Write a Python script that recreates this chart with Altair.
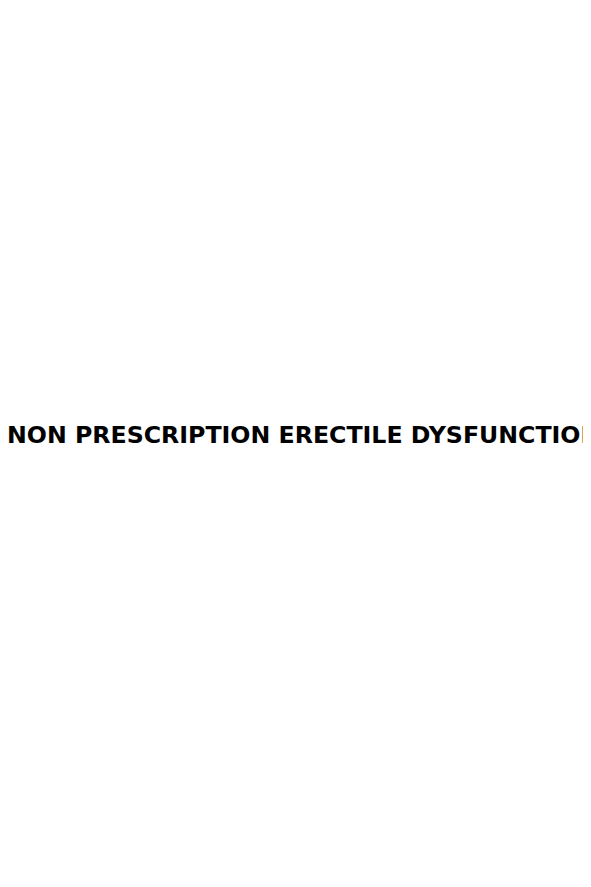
import pandas as pd
import altair as alt

# the only thing on the page: one line of heading text
lines = ["NON PRESCRIPTION ERECTILE DYSFUNCTION"]

df = pd.DataFrame({"label": lines})

chart = alt.Chart(df).mark_text(
    align="left", baseline="alphabetic", font="DejaVu Sans",
    fontWeight="bold", fontSize=24, color="#000000"
).encode(
    x=alt.value(-1),
    y=alt.value(435),
    text="label:N",
).properties(
    width=583, height=879, autosize="none", padding=0
).configure_view(strokeWidth=0)

chart.save("out.html", embed_options={"renderer": "svg", "actions": False})
